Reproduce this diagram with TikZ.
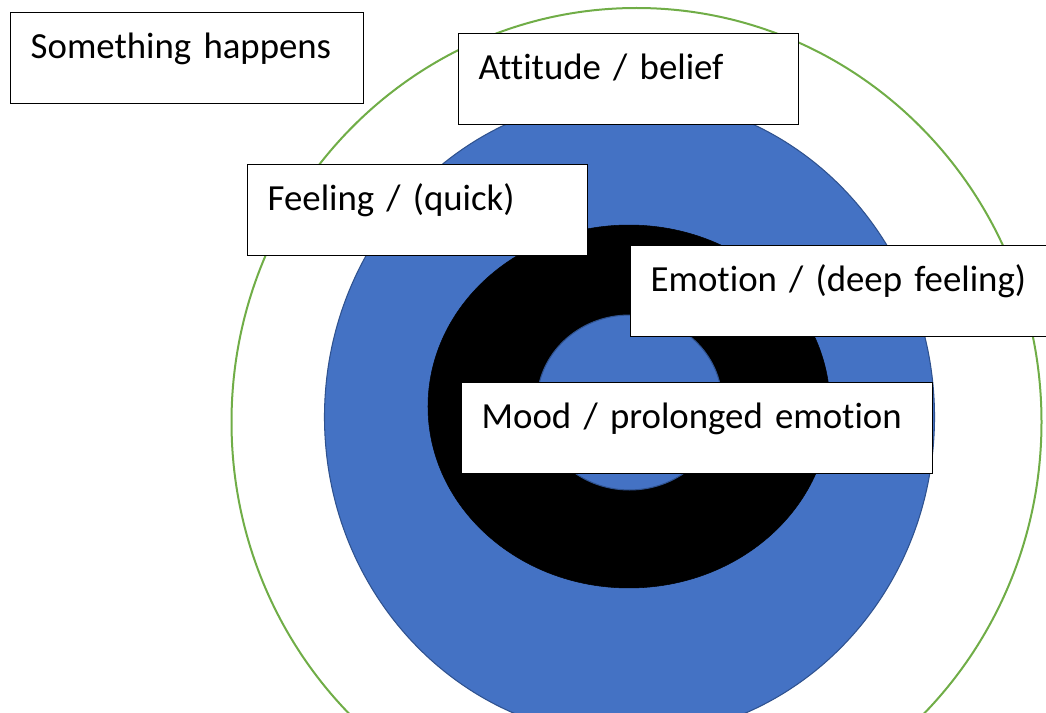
\documentclass[tikz,border=0pt]{standalone}
\usepackage{fontspec}
\setmainfont{Carlito}[Ligatures=NoCommon, WordSpace=0.8]
\usepackage{tikz}
\usetikzlibrary{positioning}

\definecolor{ringblue}{HTML}{4472C4}
\definecolor{ringedge}{HTML}{2F528F}
\definecolor{ringgreen}{HTML}{70AD47}

\begin{document}
\begin{tikzpicture} [
    x=0.75pt, y=-0.75pt,          % pixel grid, y runs downwards
    ]
% -------------------------------------------------
\tikzset{
  base/.style={draw, line width=1.1pt, fill=white, anchor=north west, align=left,
               inner xsep=15pt, inner ysep=0pt, text height=34.5pt, text depth=33.75pt,
               font=\fontsize{27.6}{33}\selectfont},
  rect/.style={base, text width=#1},
  ring/.style={draw=ringedge, line width=0.8pt},
}
    \clip (0,0) rectangle (1046,713);

    \draw [ringgreen, line width=1.5pt] (636.5,422) ellipse [x radius=303.75pt, y radius=310.5pt];
    \draw [ring, fill=ringblue] (629.5,417) ellipse [x radius=228.75pt, y radius=240pt];
    \draw [fill=black] (629,406.5) ellipse [x radius=150.75pt, y radius=136.1pt];
    \draw [ring, fill=ringblue] (629.5,402.5) ellipse [x radius=69.4pt, y radius=65.6pt];

    \node [rect=234.75pt] (happens) at (10,12) {Something happens};
    \node [rect=225pt] (attitude) at (458,33) {Attitude / belief};
    \node [rect=225pt] (feeling) at (247,164) {Feeling / (quick)};
    \node [rect=315pt] (emotion) at (630,245) {Emotion / (deep feeling)};
    \node [rect=323.25pt] (mood) at (461,382) {Mood / prolonged emotion};

\end{tikzpicture}
\end{document}
